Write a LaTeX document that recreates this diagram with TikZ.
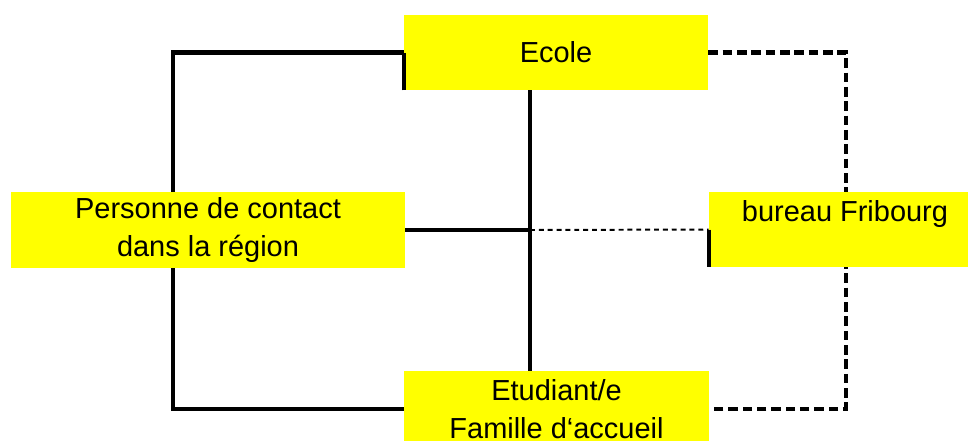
\documentclass[tikz,border=0pt]{standalone}
\usepackage{fontspec}
\setmainfont{Liberation Sans}
\usetikzlibrary{backgrounds}
\definecolor{boxyellow}{RGB}{255,255,0}
\begin{document}
\begin{tikzpicture}[x=0.025cm, y=-0.025cm,
    box/.style={fill=boxyellow, inner sep=0pt, align=center,
      font=\fontsize{20.6}{27}\selectfont},
    link/.style={line width=3pt},
    dashlink/.style={line width=3pt, dash pattern=on 6.8pt off 3.4pt},
    dotlink/.style={line width=1.4pt, dash pattern=on 3.5pt off 2.8pt}]
    \useasboundingbox (0,0) rectangle (968,441);
    \path (556,52.5) node (ecole) [box, minimum width=7.6cm, minimum height=1.875cm] {Ecole}
    (208,230) node (personne) [box, minimum width=9.85cm, minimum height=1.9cm] {Personne de contact\\dans la r\'egion}
    (845,229.5) node (bureau) [box, minimum width=6.8cm, minimum height=1.875cm] {bureau Fribourg\\\mbox{}}
    (556.5,409) node (etudiant) [box, minimum width=7.625cm, minimum height=1.9cm] {Etudiant/e\\Famille d`accueil};
    \coordinate (lrail) at (173,52);
    \coordinate (rrail) at (846,52);
    \coordinate (hub) at (530,230);
    \begin{scope}[on background layer]
    \draw [link] (ecole.west) -- (ecole.west -| lrail) -- (etudiant.west -| lrail) -- (etudiant.west);
    \draw [dashlink] (ecole.east) -- (ecole.east -| rrail) -- (etudiant.east -| rrail) -- (etudiant.east);
    \end{scope}
    \draw [link] (ecole.south west) -- (ecole.west);
    \draw [link] (hub |- ecole.south) -- (hub |- etudiant.north);
    \draw [link] (personne.east) -- (hub);
    \draw [dotlink] (hub) -- (bureau.west);
    \draw [link] (bureau.west) -- (bureau.south west);
\end{tikzpicture}
\end{document}
